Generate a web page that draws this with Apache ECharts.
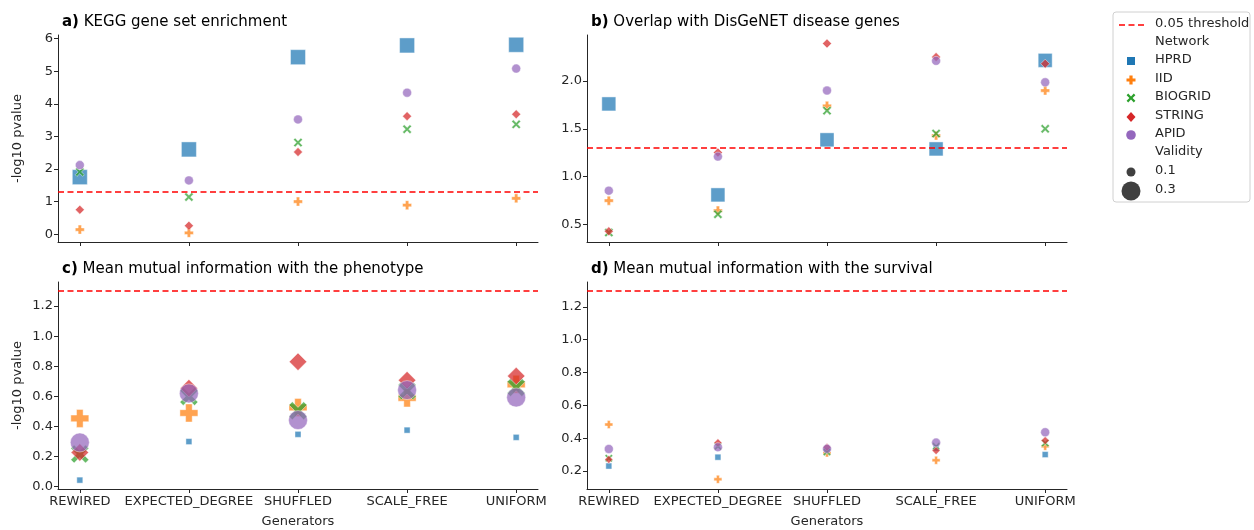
<!DOCTYPE html>
<html>
<head>
<meta charset="utf-8">
<script src="https://cdn.jsdelivr.net/npm/echarts@6.0.0/dist/echarts.min.js"></script>
<style>
  html, body { margin: 0; padding: 0; background: #fff; }
  #chart { width: 1254px; height: 530px; }
</style>
</head>
<body>
<div id="chart"></div>
<script>
// categories and series
const generators = ['REWIRED', 'EXPECTED_DEGREE', 'SHUFFLED', 'SCALE_FREE', 'UNIFORM'];
const networks = ['HPRD', 'IID', 'BIOGRID', 'STRING', 'APID'];

// -log10 pvalue, one row per network (HPRD, IID, BIOGRID, STRING, APID)
const keggValues = [
  [1.75, 2.60, 5.43, 5.79, 5.81],
  [0.14, 0.04, 1.00, 0.89, 1.10],
  [1.91, 1.14, 2.81, 3.22, 3.37],
  [0.75, 0.26, 2.52, 3.62, 3.68],
  [2.12, 1.65, 3.52, 4.34, 5.08]
];
const disgenetValues = [
  [1.76, 0.81, 1.385, 1.29, 2.215],
  [0.75, 0.646, 1.74, 1.43, 1.90],
  [0.417, 0.608, 1.69, 1.45, 1.50],
  [0.43, 1.253, 2.39, 2.25, 2.18],
  [0.854, 1.21, 1.90, 2.21, 1.986]
];
const phenotypeValues = [
  [0.044, 0.30, 0.348, 0.376, 0.328],
  [0.454, 0.49, 0.527, 0.59, 0.68],
  [0.217, 0.60, 0.505, 0.638, 0.66],
  [0.228, 0.655, 0.83, 0.708, 0.735],
  [0.294, 0.62, 0.443, 0.642, 0.593]
];
const survivalValues = [
  [0.23, 0.284, 0.32, 0.34, 0.30],
  [0.483, 0.149, 0.31, 0.265, 0.35],
  [0.277, 0.35, 0.316, 0.35, 0.37],
  [0.27, 0.372, 0.345, 0.324, 0.385],
  [0.334, 0.345, 0.335, 0.373, 0.436]
];

// validity per network in each panel (drives marker size)
const keggValidity = [0.22, 0.1, 0.1, 0.1, 0.1];
const disgenetValidity = [0.2, 0.1, 0.1, 0.1, 0.1];
const phenotypeValidity = [0.04, 0.28, 0.28, 0.27, 0.3];
const survivalValidity = [0.04, 0.08, 0.08, 0.08, 0.1];

// tick labels
const keggTicks = [0, 1, 2, 3, 4, 5, 6];
const disgenetTicks = [0.5, 1.0, 1.5, 2.0];
const phenotypeTicks = [0, 0.2, 0.4, 0.6, 0.8, 1.0, 1.2];
const survivalTicks = [0.2, 0.4, 0.6, 0.8, 1.0, 1.2];
const threshold = 1.3;

const FONT = 'DejaVu Sans';
const TXT = '#262626';
const colors = ['#1f77b4', '#ff7f0e', '#2ca02c', '#d62728', '#9467bd'];
const plusPath = 'path://M-1.1,-3H1.1V-1.1H3V1.1H1.1V3H-1.1V1.1H-3V-1.1H-1.1Z';
const crossPath = 'path://M0,-1.1L1.9,-3L3,-1.9L1.1,0L3,1.9L1.9,3L0,1.1L-1.9,3L-3,1.9L-1.1,0L-3,-1.9L-1.9,-3Z';
const symbols = ['rect', plusPath, crossPath, 'diamond', 'circle'];

function sizeOf(v) { return 4 + 50 * v; }

const panels = [
  { title: 'a)', sub: ' KEGG gene set enrichment', values: keggValues, validity: keggValidity,
    ticks: keggTicks, ymin: -0.24, ymax: 6.11, dec: 0, left: 58, top: 35, ylab: true, xlab: false },
  { title: 'b)', sub: ' Overlap with DisGeNET disease genes', values: disgenetValues, validity: disgenetValidity,
    ticks: disgenetTicks, ymin: 0.318, ymax: 2.48, dec: 1, left: 587, top: 35, ylab: false, xlab: false },
  { title: 'c)', sub: ' Mean mutual information with the phenotype', values: phenotypeValues, validity: phenotypeValidity,
    ticks: phenotypeTicks, ymin: -0.015, ymax: 1.36, dec: 1, left: 58, top: 282, ylab: true, xlab: true },
  { title: 'd)', sub: ' Mean mutual information with the survival', values: survivalValues, validity: survivalValidity,
    ticks: survivalTicks, ymin: 0.09, ymax: 1.352, dec: 1, left: 587, top: 282, ylab: false, xlab: true }
];

const axisLine = { show: true, onZero: false, lineStyle: { color: TXT, width: 1 } };
const axisTick = { show: true, length: 4, lineStyle: { color: TXT, width: 1 } };
const idx = generators.map((g, i) => i);

const grid = [], xAxis = [], yAxis = [], title = [], series = [];

panels.forEach((p, k) => {
  grid.push({ left: p.left, top: p.top, width: 480, height: 207 });
  title.push({
    text: '{b|' + p.title + '}' + p.sub,
    left: p.left - 1, top: p.top - 25,
    textStyle: {
      fontFamily: FONT, fontSize: 15, fontWeight: 'normal', color: '#000',
      rich: { b: { fontFamily: FONT, fontSize: 15, fontWeight: 'bold', color: '#000' } }
    }
  });
  xAxis.push({
    type: 'value', gridIndex: k, min: -0.2, max: 4.2,
    name: p.xlab ? 'Generators' : '', nameLocation: 'middle', nameGap: 26,
    nameTextStyle: { fontFamily: FONT, fontSize: 13, color: TXT },
    axisLine: axisLine,
    axisTick: Object.assign({ customValues: idx }, axisTick),
    axisLabel: {
      show: p.xlab, customValues: idx, margin: 6,
      fontFamily: FONT, fontSize: 13, color: TXT,
      formatter: v => generators[Math.round(v)]
    },
    splitLine: { show: false }
  });
  yAxis.push({
    type: 'value', gridIndex: k, min: p.ymin, max: p.ymax,
    name: p.ylab ? '-log10 pvalue' : '', nameLocation: 'middle', nameGap: 34,
    nameTextStyle: { fontFamily: FONT, fontSize: 13, color: TXT },
    axisLine: axisLine,
    axisTick: Object.assign({ customValues: p.ticks }, axisTick),
    axisLabel: {
      customValues: p.ticks, margin: 5,
      fontFamily: FONT, fontSize: 13, color: TXT,
      formatter: v => v.toFixed(p.dec)
    },
    splitLine: { show: false }
  });
  series.push({
    type: 'line', xAxisIndex: k, yAxisIndex: k, data: [], silent: true,
    markLine: {
      silent: true, symbol: 'none', label: { show: false },
      lineStyle: { color: '#ff0000', width: 1.6, type: [6, 3.5] },
      data: [{ yAxis: threshold }]
    }
  });
  networks.forEach((n, j) => {
    series.push({
      name: n, type: 'scatter', xAxisIndex: k, yAxisIndex: k,
      symbol: symbols[j], symbolSize: sizeOf(p.validity[j]),
      itemStyle: { color: colors[j], opacity: 0.72, borderColor: '#fff', borderWidth: 0.6 },
      data: p.values[j].map((v, i) => [idx[i], v])
    });
  });
});

// legend drawn as graphic so headers sit in the same box
const LX = 1131, TX = 1155, legendText = (t, y) => ({
  type: 'text', left: TX, top: y - 8,
  style: { text: t, fontFamily: FONT, fontSize: 13, fill: TXT }
});
const rowY = [25, 43, 61, 80, 98, 117, 135, 153, 172, 191];
function poly(points, cx, cy, c) {
  return { type: 'polygon', shape: { points: points.map(q => [cx + q[0], cy + q[1]]) }, style: { fill: c } };
}
const plusPts = [[-1.6,-4.5],[1.6,-4.5],[1.6,-1.6],[4.5,-1.6],[4.5,1.6],[1.6,1.6],[1.6,4.5],[-1.6,4.5],[-1.6,1.6],[-4.5,1.6],[-4.5,-1.6],[-1.6,-1.6]];
const crossPts = [[0,-1.6],[2.8,-4.4],[4.4,-2.8],[1.6,0],[4.4,2.8],[2.8,4.4],[0,1.6],[-2.8,4.4],[-4.4,2.8],[-1.6,0],[-4.4,-2.8],[-2.8,-4.4]];
const legendItems = [
  { type: 'rect', shape: { x: 1113, y: 12, width: 137, height: 190, r: 3 }, style: { fill: '#fff', stroke: '#d0d0d0', lineWidth: 1 } },
  { type: 'line', shape: { x1: 1119, y1: rowY[0], x2: 1146, y2: rowY[0] }, style: { stroke: '#ff0000', lineWidth: 1.6, lineDash: [6, 3.5] } },
  legendText('0.05 threshold', rowY[0]),
  legendText('Network', rowY[1]),
  { type: 'rect', shape: { x: LX - 4, y: rowY[2] - 4, width: 8, height: 8 }, style: { fill: colors[0] } },
  poly(plusPts, LX, rowY[3], colors[1]),
  poly(crossPts, LX, rowY[4], colors[2]),
  { type: 'polygon', shape: { points: [[LX, rowY[5] - 5], [LX + 4.5, rowY[5]], [LX, rowY[5] + 5], [LX - 4.5, rowY[5]]] }, style: { fill: colors[3] } },
  { type: 'circle', shape: { cx: LX, cy: rowY[6], r: 4.8 }, style: { fill: colors[4] } },
  legendText('Validity', rowY[7]),
  { type: 'circle', shape: { cx: LX, cy: rowY[8], r: 4.5 }, style: { fill: '#404040' } },
  { type: 'circle', shape: { cx: LX, cy: rowY[9], r: 9.5 }, style: { fill: '#404040' } },
  legendText('0.1', rowY[8]),
  legendText('0.3', rowY[9])
];
networks.forEach((n, j) => legendItems.push(legendText(n, rowY[2 + j])));

const chart = echarts.init(document.getElementById('chart'));
chart.setOption({
  animation: false,
  title: title,
  grid: grid,
  xAxis: xAxis,
  yAxis: yAxis,
  series: series,
  graphic: legendItems
});
</script>
</body>
</html>
